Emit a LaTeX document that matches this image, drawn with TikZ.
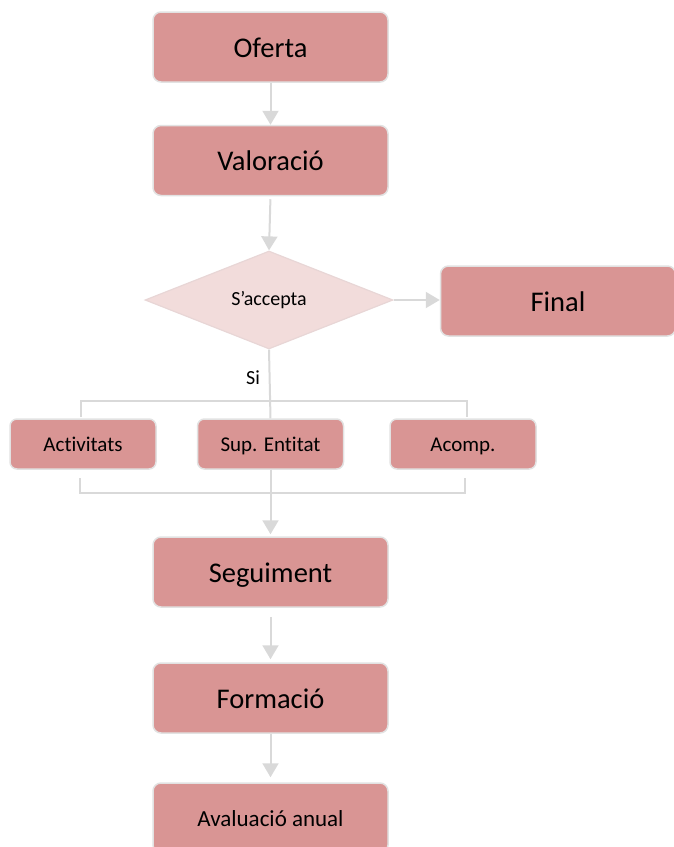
\documentclass[tikz,border=0pt]{standalone}
\usepackage{fontspec}
\setmainfont{Carlito}[Ligatures={NoCommon,NoRare,NoContextual}]
\usetikzlibrary{shapes.geometric,arrows.meta}
\definecolor{boxfill}{HTML}{D99594}
\definecolor{boxline}{HTML}{E2E2E2}
\definecolor{diafill}{HTML}{F2DCDB}
\definecolor{dialine}{HTML}{E8D6D6}
\definecolor{conncol}{HTML}{D9D9D9}
\tikzset{
  bigbox/.style={draw=boxline, line width=1.5pt, fill=boxfill, rounded corners=8pt,
    minimum width=235pt, minimum height=70pt, inner sep=0pt,
    text height=20.5pt, text depth=0pt,
    font=\fontsize{28.5}{32}\selectfont},
  smallbox/.style={draw=boxline, line width=1.5pt, fill=boxfill, rounded corners=7pt,
    minimum width=146pt, minimum height=50pt, inner sep=0pt,
    text height=15pt, text depth=0pt,
    font=\fontsize{21}{24}\selectfont},
  decision/.style={diamond, draw=dialine, line width=1.2pt, fill=diafill, aspect=2.53,
    minimum width=248pt, minimum height=98pt, inner sep=0pt,
    font=\fontsize{20}{23}\selectfont},
  conn/.style={draw=conncol, line width=2pt},
  arr/.style={conn, -{Triangle[width=16pt,length=14pt]}},
}
\begin{document}
\begin{tikzpicture}[x=1pt,y=-1pt]
\useasboundingbox (0,0) rectangle (674,847);
\node[bigbox] (oferta) at (270.5,47) {Oferta};
\node[bigbox] (valoracio) at (270.5,160.5) {Valoració};
\node[decision] (dec) at (269,300) {S’accepta};
\node[bigbox] (final) at (558,301) {Final};
\node[smallbox] (activ) at (83,444) {Activitats};
\node[smallbox] (sup) at (270.5,444) {Sup. Entitat};
\node[smallbox] (acomp) at (463,444) {Acomp.};
\node[bigbox] (seg) at (270.5,572) {Seguiment};
\node[bigbox] (form) at (270.5,698) {Formació};
\node[bigbox, font=\fontsize{23}{26}\selectfont, text height=16.5pt] (aval) at (270.5,818) {Avaluació anual};
\node[font=\fontsize{20}{23}\selectfont] (si) at (253,378) {Si};
% bracket coordinates
\coordinate (tl) at (81,401);
\coordinate (tr) at (467,401);
\coordinate (tlb) at (81,417);
\coordinate (trb) at (467,417);
\coordinate (bl) at (80,493);
\coordinate (br) at (465,493);
\coordinate (blt) at (80,478);
\coordinate (brt) at (465,478);
% connectors
\draw[arr] (oferta.south) -- (valoracio.north);
\draw[arr, shorten <=3pt] (valoracio.south) -- (dec.north);
\draw[arr] (dec.east) -- (dec.east -| final.west);
\draw[conn] (dec.south) -- (sup.north);
\draw[conn] (tlb) -- (tl) -- (tr) -- (trb);
\draw[conn] (blt) -- (bl) -- (br) -- (brt);
\draw[arr, shorten >=2pt] (sup.south) -- (seg.north);
\draw[arr, shorten <=9pt, shorten >=3pt] (seg.south) -- (form.north);
\draw[arr, shorten >=5pt] (form.south) -- (aval.north);
\end{tikzpicture}
\end{document}
